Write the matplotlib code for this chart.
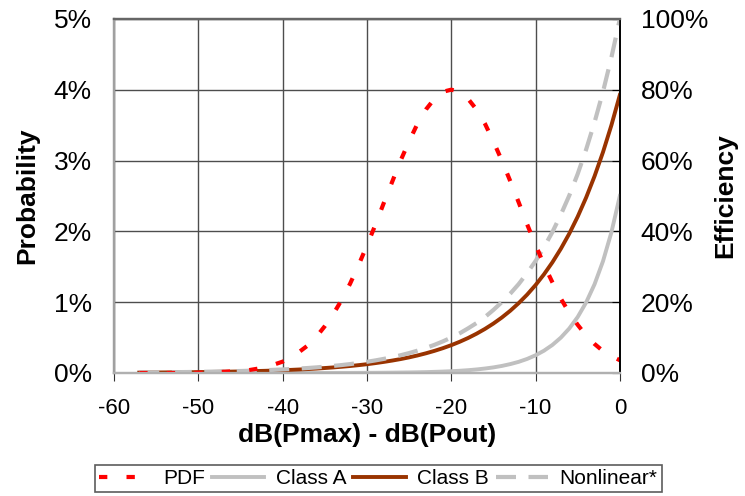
import matplotlib
matplotlib.use("Agg")
import matplotlib.pyplot as plt
from matplotlib.ticker import FuncFormatter

plt.rcParams['font.family'] = ['Liberation Sans', 'DejaVu Sans']
plt.rcParams['axes.unicode_minus'] = False

# dB below peak power (x axis)
x_db = [-57, -54, -51, -48, -45, -44, -43, -42, -41, -40, -39, -38, -37, -36, -35,
        -34, -33, -32, -31, -30, -29, -28, -27, -26, -25, -24, -23, -22, -21, -20,
        -19, -18, -17, -16, -15, -14, -13, -12, -11, -10, -9, -8, -7, -6, -5,
        -4, -3, -2, -1, 0]

# probability density of output level (%)
pdf = [0.0, 0.0, 0.0, 0.01, 0.03, 0.04, 0.06, 0.08, 0.12, 0.16, 0.22, 0.30, 0.39, 0.51, 0.66,
       0.83, 1.03, 1.26, 1.52, 1.80, 2.09, 2.40, 2.70, 3.00, 3.27, 3.52, 3.72, 3.87, 3.97, 4.00,
       3.97, 3.87, 3.72, 3.52, 3.27, 3.00, 2.71, 2.41, 2.10, 1.81, 1.53, 1.28, 1.05, 0.85, 0.68,
       0.53, 0.41, 0.31, 0.24, 0.18]

# efficiency (%)
class_a = [0.0, 0.0, 0.0, 0.0, 0.0, 0.0, 0.0, 0.0, 0.0, 0.01, 0.01, 0.01, 0.01, 0.01, 0.02,
           0.02, 0.03, 0.03, 0.04, 0.05, 0.06, 0.08, 0.10, 0.13, 0.16, 0.20, 0.25, 0.32, 0.40, 0.50,
           0.63, 0.79, 1.00, 1.26, 1.58, 1.99, 2.51, 3.15, 3.97, 5.00, 6.29, 7.92, 9.98, 12.56, 15.81,
           19.91, 25.06, 31.55, 39.72, 50.0]
class_b = [0.11, 0.16, 0.22, 0.31, 0.44, 0.50, 0.56, 0.62, 0.70, 0.79, 0.88, 0.99, 1.11, 1.24, 1.40,
           1.57, 1.76, 1.97, 2.21, 2.48, 2.79, 3.13, 3.51, 3.93, 4.41, 4.95, 5.56, 6.24, 7.00, 7.85,
           8.81, 9.88, 11.09, 12.44, 13.96, 15.66, 17.57, 19.72, 22.12, 24.82, 27.85, 31.25, 35.07, 39.34, 44.14,
           49.53, 55.57, 62.35, 69.97, 78.5]
nonlinear = [0.14, 0.20, 0.28, 0.40, 0.56, 0.63, 0.71, 0.79, 0.89, 1.00, 1.12, 1.26, 1.41, 1.58, 1.78,
             2.00, 2.24, 2.51, 2.82, 3.16, 3.55, 3.98, 4.47, 5.01, 5.62, 6.31, 7.08, 7.94, 8.91, 10.0,
             11.2, 12.6, 14.1, 15.8, 17.8, 20.0, 22.4, 25.1, 28.2, 31.6, 35.5, 39.8, 44.7, 50.1, 56.2,
             63.1, 70.8, 79.4, 89.1, 100.0]

fig = plt.figure(figsize=(7.45, 4.96), dpi=100)
ax = fig.add_axes([0.153, 0.248, 0.679, 0.714])
ax2 = ax.twinx()

light = '#c0c0c0'
ax2.plot(x_db, class_a, color=light, linewidth=2.8, label='Class A')
ax2.plot(x_db, class_b, color='#993300', linewidth=2.8, label='Class B')
ax2.plot(x_db, nonlinear, color=light, linewidth=3, linestyle=(0, (4.8, 3.0)),
         label='Nonlinear*')
# PDF belongs to the left axis: scale 0-5% onto 0-100%
ax2.plot(x_db, [v * 20 for v in pdf], color='red', linewidth=3,
         linestyle=(0, (2.0, 4.6)), dash_capstyle='butt', label='PDF')

ax.set_xlim(-60, 0)
ax.set_ylim(0, 5)
ax2.set_ylim(0, 100)
ax.set_xticks(range(-60, 1, 10))
ax.set_yticks(range(0, 6))
ax2.set_yticks(range(0, 101, 20))
ax.yaxis.set_major_formatter(FuncFormatter(lambda v, p: f'{v:.0f}%'))
ax2.yaxis.set_major_formatter(FuncFormatter(lambda v, p: f'{v:.0f}%'))

ax.grid(True, color='#4d4d4d', linewidth=1)
ax.set_axisbelow(True)
ax.tick_params(axis='x', direction='out', length=6, color='#333333', labelsize=16, pad=12)
ax.tick_params(axis='y', length=0, labelsize=19, pad=16)
ax2.tick_params(axis='y', direction='in', length=6, color='black', labelsize=19, pad=15)

for a in (ax, ax2):
    a.spines['left'].set_color('#a0a0a0')
    a.spines['bottom'].set_color('#b0b0b0')
    a.spines['top'].set_color('#666666')
    a.spines['right'].set_color('black')
    for s in a.spines.values():
        s.set_linewidth(1.6)
    a.spines['right'].set_linewidth(1.2)

ax.set_xlabel('dB(Pmax) - dB(Pout)', fontsize=19, fontweight='bold', labelpad=3)
ax.set_ylabel('Probability', fontsize=19, fontweight='bold', labelpad=10)
ax2.set_ylabel('Efficiency', fontsize=19, fontweight='bold', labelpad=4)

h, l = ax2.get_legend_handles_labels()
order = [3, 0, 1, 2]
leg = fig.legend([h[i] for i in order], [l[i] for i in order], loc='center',
                 bbox_to_anchor=(0.508, 0.035), ncol=4, fontsize=15, frameon=True,
                 fancybox=False, edgecolor='#333333', handlelength=2.5,
                 handletextpad=0.55, columnspacing=0.35, borderpad=0.2)
leg.get_frame().set_linewidth(1.2)

fig.savefig('out.png', dpi=100)
